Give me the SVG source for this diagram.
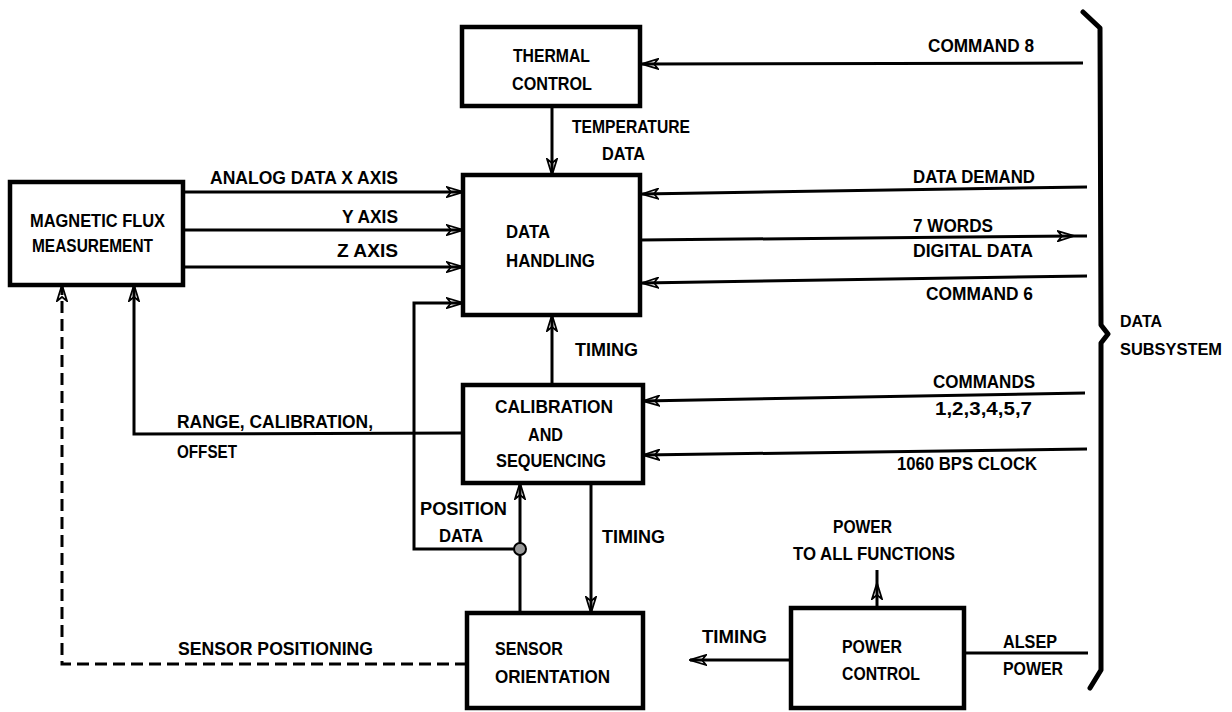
<svg xmlns="http://www.w3.org/2000/svg" width="1232" height="712" viewBox="0 0 1232 712">
<style>
  .box { fill: #ffffff; stroke: #000; stroke-width: 4.5; }
  .ln { fill: none; stroke: #000; stroke-width: 3; }
  .dash { fill: none; stroke: #000; stroke-width: 3; stroke-dasharray: 12 6; }
  .brace { fill: none; stroke: #000; stroke-width: 5; stroke-linejoin: round; stroke-linecap: round; }
  text { font-family: "Liberation Sans", Arial, sans-serif; font-size: 19px; font-weight: bold; fill: #000; }
  text.sm { font-size: 17px; }
</style>
<defs>
  <marker id="arr" viewBox="0 0 18 12" refX="17" refY="6" markerWidth="18" markerHeight="12" markerUnits="userSpaceOnUse" orient="auto">
    <path d="M1,1 L17,6 L1,11 L5,6 Z" fill="none" stroke="#000" stroke-width="1.8" stroke-linejoin="miter"/>
  </marker>
</defs>
<rect width="1232" height="712" fill="#ffffff"/>

<g id="thermal-control">
  <rect class="box" x="462" y="27" width="178" height="79"/>
  <text x="513" y="62" textLength="77" lengthAdjust="spacingAndGlyphs">THERMAL</text>
  <text x="512" y="90" textLength="80" lengthAdjust="spacingAndGlyphs">CONTROL</text>
</g>

<g id="data-handling">
  <rect class="box" x="463" y="175" width="177" height="140"/>
  <text x="506" y="238" textLength="44" lengthAdjust="spacingAndGlyphs">DATA</text>
  <text x="506" y="267" textLength="89" lengthAdjust="spacingAndGlyphs">HANDLING</text>
</g>

<g id="magnetic-flux-measurement">
  <rect class="box" x="10" y="182" width="173" height="103"/>
  <text x="30" y="227" textLength="135" lengthAdjust="spacingAndGlyphs">MAGNETIC FLUX</text>
  <text x="32" y="252" textLength="121" lengthAdjust="spacingAndGlyphs">MEASUREMENT</text>
</g>

<g id="calibration-and-sequencing">
  <rect class="box" x="463" y="385" width="180" height="98"/>
  <text x="495" y="413" textLength="118" lengthAdjust="spacingAndGlyphs">CALIBRATION</text>
  <text x="528" y="441" textLength="35" lengthAdjust="spacingAndGlyphs">AND</text>
  <text x="496" y="467" textLength="110" lengthAdjust="spacingAndGlyphs">SEQUENCING</text>
</g>

<g id="sensor-orientation">
  <rect class="box" x="467" y="613" width="176" height="95"/>
  <text x="495" y="655" textLength="68" lengthAdjust="spacingAndGlyphs">SENSOR</text>
  <text x="495" y="683" textLength="115" lengthAdjust="spacingAndGlyphs">ORIENTATION</text>
</g>

<g id="power-control">
  <rect class="box" x="791" y="608" width="173" height="100"/>
  <text x="842" y="653" textLength="60" lengthAdjust="spacingAndGlyphs">POWER</text>
  <text x="842" y="680" textLength="78" lengthAdjust="spacingAndGlyphs">CONTROL</text>
</g>

<g id="data-subsystem">
  <path class="brace" d="M1083,12 L1100,28 L1101,325 L1108,334 L1101,343 L1101,670 L1090,688"/>
  <text class="sm" x="1120" y="327" textLength="42" lengthAdjust="spacingAndGlyphs">DATA</text>
  <text class="sm" x="1120" y="355" textLength="102" lengthAdjust="spacingAndGlyphs">SUBSYSTEM</text>
</g>

<g id="connectors">
  <line class="ln" x1="1083" y1="63" x2="642" y2="64" marker-end="url(#arr)"/>
  <text x="928" y="52" textLength="106" lengthAdjust="spacingAndGlyphs">COMMAND 8</text>
  <line class="ln" x1="552" y1="106" x2="552" y2="175" marker-end="url(#arr)"/>
  <text x="572" y="133" textLength="118" lengthAdjust="spacingAndGlyphs">TEMPERATURE</text>
  <text x="602" y="160" textLength="43" lengthAdjust="spacingAndGlyphs">DATA</text>
  <line class="ln" x1="183" y1="192" x2="463" y2="192" marker-end="url(#arr)"/>
  <text x="210" y="184" textLength="188" lengthAdjust="spacingAndGlyphs">ANALOG DATA X AXIS</text>
  <line class="ln" x1="183" y1="230" x2="463" y2="230" marker-end="url(#arr)"/>
  <text x="342" y="223" textLength="56" lengthAdjust="spacingAndGlyphs">Y AXIS</text>
  <line class="ln" x1="183" y1="267" x2="463" y2="267" marker-end="url(#arr)"/>
  <text x="337" y="257" textLength="61" lengthAdjust="spacingAndGlyphs">Z AXIS</text>
  <line class="ln" x1="1087" y1="187" x2="642" y2="194" marker-end="url(#arr)"/>
  <text x="913" y="183" textLength="122" lengthAdjust="spacingAndGlyphs">DATA DEMAND</text>
  <line class="ln" x1="640" y1="240" x2="1074" y2="236" marker-end="url(#arr)"/>
  <line class="ln" x1="1074" y1="236" x2="1087" y2="236"/>
  <text x="913" y="232" textLength="80" lengthAdjust="spacingAndGlyphs">7 WORDS</text>
  <text x="913" y="257" textLength="120" lengthAdjust="spacingAndGlyphs">DIGITAL DATA</text>
  <line class="ln" x1="1087" y1="276" x2="642" y2="283" marker-end="url(#arr)"/>
  <text x="926" y="300" textLength="107" lengthAdjust="spacingAndGlyphs">COMMAND 6</text>
  <line class="ln" x1="552" y1="385" x2="552" y2="315" marker-end="url(#arr)"/>
  <text x="575" y="356" textLength="63" lengthAdjust="spacingAndGlyphs">TIMING</text>
  <line class="ln" x1="1085" y1="393" x2="643" y2="401" marker-end="url(#arr)"/>
  <text x="933" y="388" textLength="102" lengthAdjust="spacingAndGlyphs">COMMANDS</text>
  <text x="935" y="415" textLength="97" lengthAdjust="spacingAndGlyphs">1,2,3,4,5,7</text>
  <line class="ln" x1="1087" y1="449" x2="643" y2="455" marker-end="url(#arr)"/>
  <text x="897" y="470" textLength="140" lengthAdjust="spacingAndGlyphs">1060 BPS CLOCK</text>
  <polyline class="ln" points="463,433 134,434 134,285" marker-end="url(#arr)"/>
  <text x="177" y="428" textLength="196" lengthAdjust="spacingAndGlyphs">RANGE, CALIBRATION,</text>
  <text x="177" y="458" textLength="60" lengthAdjust="spacingAndGlyphs">OFFSET</text>
  <line class="ln" x1="520" y1="613" x2="520" y2="483" marker-end="url(#arr)"/>
  <polyline class="ln" points="520,549 414,549 414,303 463,303" marker-end="url(#arr)"/>
  <circle cx="520" cy="549" r="6" fill="#9a9a9a" stroke="#000" stroke-width="2"/>
  <text x="420" y="515" textLength="87" lengthAdjust="spacingAndGlyphs">POSITION</text>
  <text x="439" y="542" textLength="44" lengthAdjust="spacingAndGlyphs">DATA</text>
  <line class="ln" x1="591" y1="483" x2="591" y2="613" marker-end="url(#arr)"/>
  <text x="602" y="543" textLength="63" lengthAdjust="spacingAndGlyphs">TIMING</text>
  <polyline class="dash" points="467,664 62,664 62,285" marker-end="url(#arr)"/>
  <text x="178" y="655" textLength="195" lengthAdjust="spacingAndGlyphs">SENSOR POSITIONING</text>
  <line class="ln" x1="791" y1="660" x2="690" y2="660" marker-end="url(#arr)"/>
  <text x="702" y="643" textLength="65" lengthAdjust="spacingAndGlyphs">TIMING</text>
  <line class="ln" x1="877" y1="608" x2="877" y2="583" marker-end="url(#arr)"/>
  <line class="ln" x1="877" y1="583" x2="877" y2="570"/>
  <text x="833" y="533" textLength="59" lengthAdjust="spacingAndGlyphs">POWER</text>
  <text x="793" y="560" textLength="162" lengthAdjust="spacingAndGlyphs">TO ALL FUNCTIONS</text>
  <line class="ln" x1="964" y1="653" x2="1088" y2="653"/>
  <text x="1003" y="648" textLength="54" lengthAdjust="spacingAndGlyphs">ALSEP</text>
  <text x="1003" y="675" textLength="60" lengthAdjust="spacingAndGlyphs">POWER</text>
</g>
</svg>
